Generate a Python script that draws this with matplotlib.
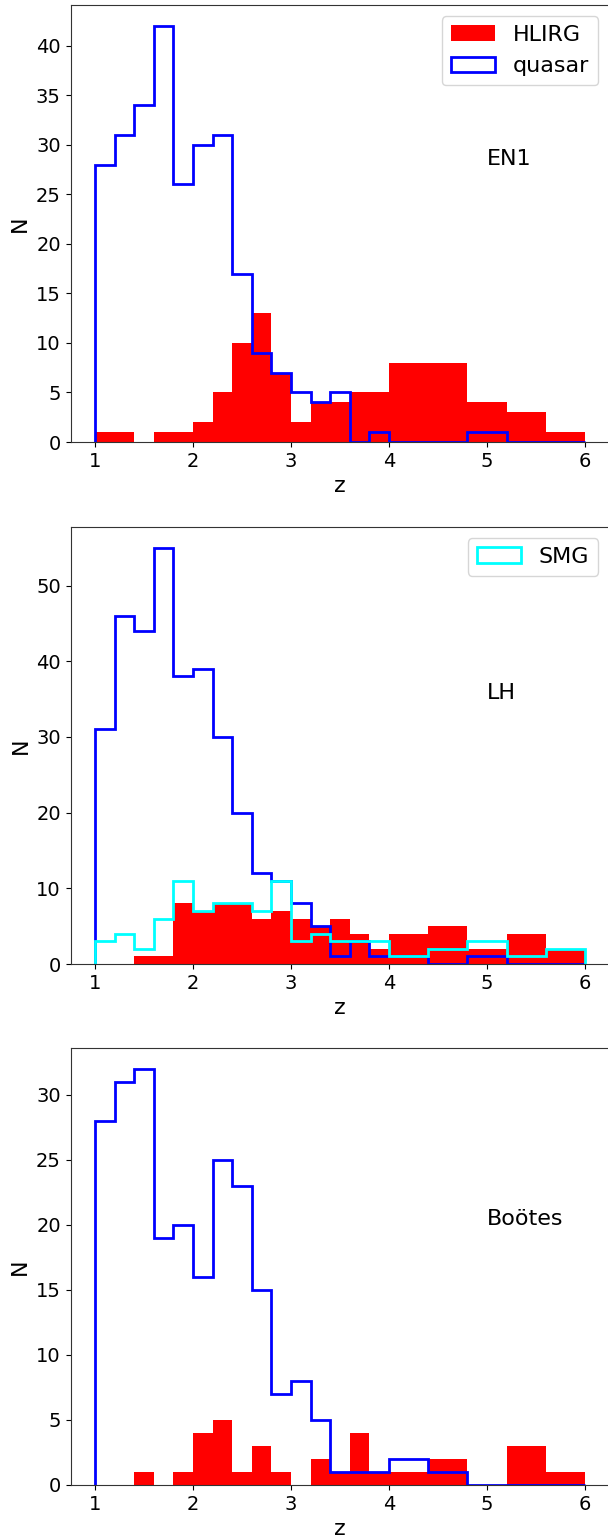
import matplotlib
matplotlib.use("Agg")
import matplotlib.pyplot as plt
import numpy as np

# Bin edges (z)
bin_edges = [1.0, 1.2, 1.4, 1.6, 1.8, 2.0, 2.2, 2.4, 2.6, 2.8, 3.0, 3.2, 3.4,
             3.6, 3.8, 4.0, 4.2, 4.4, 4.6, 4.8, 5.0, 5.2, 5.4, 5.6, 5.8, 6.0]

# EN1
en1_hlirg = [1, 1, 0, 1, 1, 2, 5, 10, 13, 7, 2, 4, 4, 5, 5, 8, 8, 8, 8, 4, 4, 3, 3, 1, 1]
en1_quasar = [28, 31, 34, 42, 26, 30, 31, 17, 9, 7, 5, 4, 5, 0, 1, 0, 0, 0, 0, 1, 1, 0, 0, 0, 0]

# LH
lh_hlirg = [0, 0, 1, 1, 8, 7, 8, 8, 6, 7, 6, 5, 6, 4, 2, 4, 4, 5, 5, 2, 2, 4, 4, 2, 2]
lh_quasar = [31, 46, 44, 55, 38, 39, 30, 20, 12, 11, 8, 5, 1, 3, 1, 1, 1, 0, 0, 1, 1, 0, 0, 0, 0]
lh_smg = [3, 4, 2, 6, 11, 7, 8, 8, 7, 11, 3, 4, 3, 3, 3, 1, 1, 2, 2, 3, 3, 1, 1, 2, 2]

# Bootes
bo_hlirg = [0, 0, 1, 0, 1, 4, 5, 1, 3, 1, 0, 2, 1, 4, 1, 1, 1, 2, 2, 0, 0, 3, 3, 1, 1]
bo_quasar = [28, 31, 32, 19, 20, 16, 25, 23, 15, 7, 8, 5, 1, 1, 1, 2, 2, 1, 1, 0, 0, 0, 0, 0, 0]

field_names = ["EN1", "LH", "Bo\u00f6tes"]
label_y = [28, 35, 20]

edges = np.array(bin_edges)
left = edges[:-1]

fig = plt.figure(figsize=(6.08, 15.39), dpi=100)
W = 608.0
H = 1539.0
axl = 70.5 / W
axw = 539.0 / W
axh = 437.0 / H
bottoms = [442, 964, 1485]

panels = [
    (en1_hlirg, en1_quasar, None),
    (lh_hlirg, lh_quasar, lh_smg),
    (bo_hlirg, bo_quasar, None),
]

for i, (hl, qs, smg) in enumerate(panels):
    ax = fig.add_axes([axl, (H - bottoms[i]) / H, axw, axh])
    ax.hist(left, bins=edges, weights=hl, histtype="stepfilled", color="red",
            label="HLIRG")
    ax.hist(left, bins=edges, weights=qs, histtype="step", color="blue",
            linewidth=2, label="quasar")
    if smg is not None:
        ax.hist(left, bins=edges, weights=smg, histtype="step", color="cyan",
                linewidth=2, label="SMG")
    ax.text(5, label_y[i], field_names[i], fontsize=16)
    ax.set_xlabel("z", fontsize=16)
    ax.set_ylabel("N", fontsize=16)
    ax.tick_params(labelsize=14)
    for sp in ax.spines.values():
        sp.set_color("#333333")
    if i == 0:
        ax.legend(loc="upper right", fontsize=16)
    elif i == 1:
        h, l = ax.get_legend_handles_labels()
        ax.legend([h[2]], [l[2]], loc="upper right", fontsize=16)

fig.savefig("out.png", dpi=100)
